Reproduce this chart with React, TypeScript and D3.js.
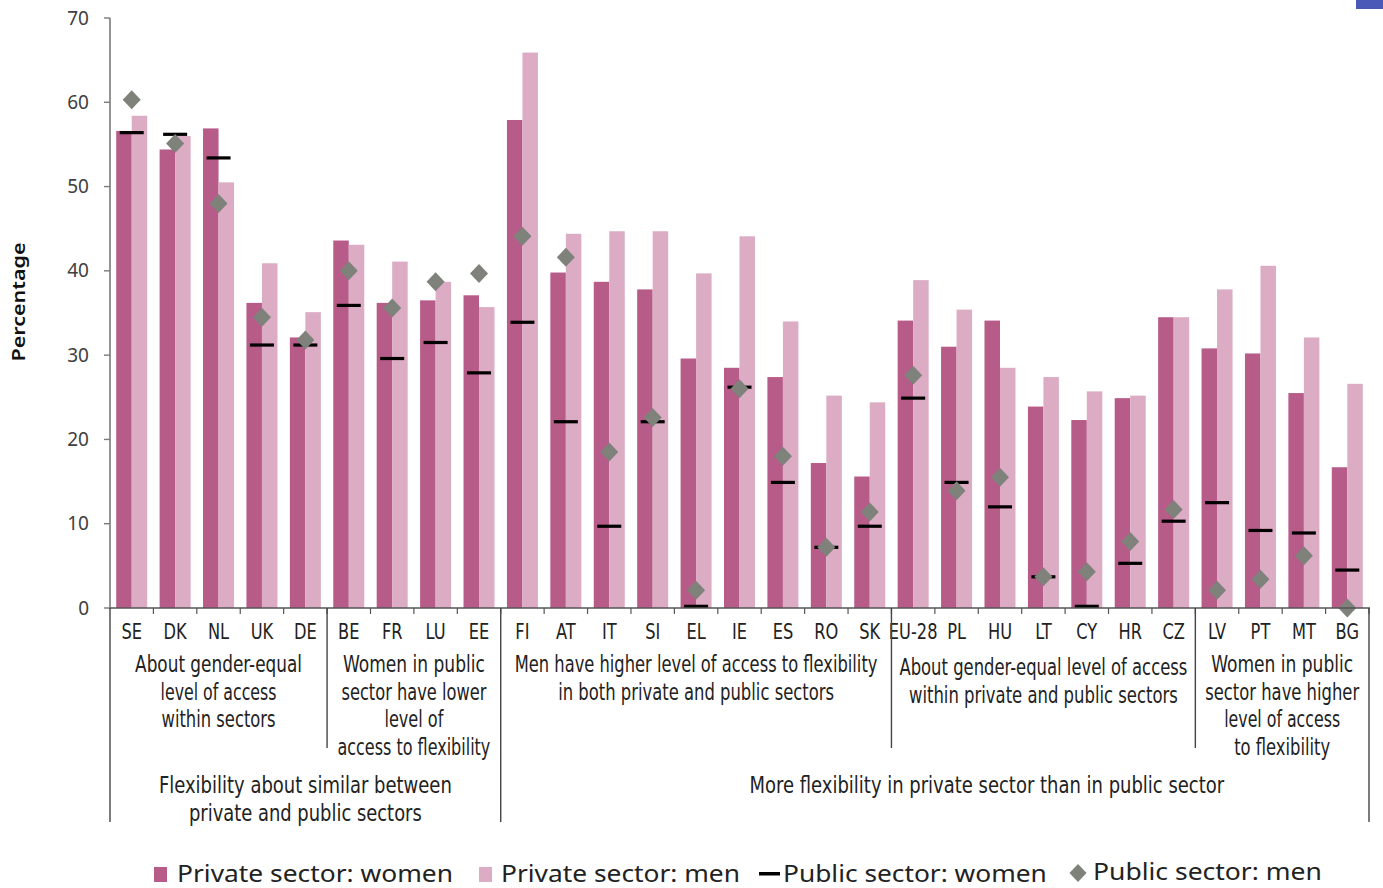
import React, { useLayoutEffect, useRef, useState } from "react";
import * as d3 from "d3";

const categories = ["SE","DK","NL","UK","DE","BE","FR","LU","EE","FI","AT","IT","SI","EL","IE","ES","RO","SK","EU-28","PL","HU","LT","CY","HR","CZ","LV","PT","MT","BG"];
const privateWomen = [56.6,54.4,56.9,36.2,32.1,43.6,36.2,36.5,37.1,57.9,39.8,38.7,37.8,29.6,28.5,27.4,17.2,15.6,34.1,31.0,34.1,23.9,22.3,24.9,34.5,30.8,30.2,25.5,16.7];
const privateMen = [58.4,56.0,50.5,40.9,35.1,43.1,41.1,38.7,35.7,65.9,44.4,44.7,44.7,39.7,44.1,34.0,25.2,24.4,38.9,35.4,28.5,27.4,25.7,25.2,34.5,37.8,40.6,32.1,26.6];
const publicWomen = [56.4,56.2,53.4,31.2,31.2,35.9,29.6,31.5,27.9,33.9,22.1,9.7,22.1,0.2,26.2,14.9,7.2,9.7,24.9,14.9,12.0,3.7,0.2,5.3,10.3,12.5,9.2,8.9,4.5];
const publicMen = [60.3,55.1,48.0,34.5,31.8,40.0,35.6,38.7,39.7,44.1,41.6,18.5,22.6,2.1,26.0,18.0,7.2,11.4,27.6,13.9,15.5,3.7,4.3,7.9,11.7,2.1,3.4,6.2,0];
const yTicks = [0,10,20,30,40,50,60,70];

const subGroups = [
  { from: 0, to: 4, lines: ["About gender-equal","level of access","within sectors"], widths: [167,116,114], top: 672 },
  { from: 5, to: 8, lines: ["Women in public","sector have lower","level of","access to flexibility"], widths: [142,145,59,153], top: 672 },
  { from: 9, to: 17, lines: ["Men have higher level of access to flexibility","in both private and public sectors"], widths: [363,276], top: 672 },
  { from: 18, to: 24, lines: ["About gender-equal level of access","within private and public sectors"], widths: [288,269], top: 675 },
  { from: 25, to: 28, lines: ["Women in public","sector have higher","level of access","to flexibility"], widths: [142,154,116,96], top: 672 },
];
const outerGroups = [
  { from: 0, to: 8, lines: ["Flexibility about similar between","private and public sectors"], widths: [293,233], shift: 0 },
  { from: 9, to: 28, lines: ["More flexibility in private sector than in public sector"], widths: [475], shift: 52 },
];
const legendItems = ["Private sector: women","Private sector: men","Public sector: women","Public sector: men"];

const C_W = "#b75b88";
const C_M = "#dcacc4";
const C_D = "#7f827b";
const NARROW = "'Liberation Sans Narrow', 'DejaVu Sans Condensed', sans-serif";
const SANS = "'Noto Sans', 'Open Sans', sans-serif";

type FitProps = { x: number; y: number; width?: number; sx?: number; anchor?: string; size: number; family: string; weight?: number; fill?: string; rotate?: number; children: string };

function FitText({ x, y, width, sx, anchor = "middle", size, family, weight = 400, fill = "#222", rotate = 0, children }: FitProps) {
  const ref = useRef<SVGTextElement>(null);
  const [s, setS] = useState(sx ?? 1);
  useLayoutEffect(() => {
    if (width && ref.current) {
      const len = ref.current.getComputedTextLength();
      if (len > 0) setS(width / len);
    }
  }, [width, children]);
  return (
    <text ref={ref} transform={`translate(${x},${y}) rotate(${rotate}) scale(${s},1)`} textAnchor={anchor}
      fontFamily={family} fontSize={size} fontWeight={weight} fill={fill}>{children}</text>
  );
}

export default function App() {
  const W = 1383, H = 888;
  const x = d3.scaleBand<string>().domain(categories).range([110, 1369]).paddingInner(0).paddingOuter(0);
  const y = d3.scaleLinear().domain([0, 70]).range([608, 18]);
  const bw = x.bandwidth();
  const barW = 15.5;
  const cx = (i: number) => (x(categories[i]) as number) + bw / 2;
  const left = (i: number) => x(categories[i]) as number;
  const right = (i: number) => (x(categories[i]) as number) + bw;
  const diamond = (px: number, py: number, r = 9.5) => `M${px},${py - r}L${px + r * 0.95},${py}L${px},${py + r}L${px - r * 0.95},${py}Z`;

  return (
    <svg width={W} height={H} style={{ display: "block", position: "absolute", left: 0, top: 0 }}>
      <rect x={0} y={0} width={W} height={H} fill="#fff" />
      <rect x={1356} y={0} width={27} height={9} fill="#4a58b8" />
      {categories.map((c, i) => (
        <g key={c}>
          <rect x={cx(i) - barW} y={y(privateWomen[i])} width={barW} height={y(0) - y(privateWomen[i])} fill={C_W} />
          <rect x={cx(i)} y={y(privateMen[i])} width={barW} height={y(0) - y(privateMen[i])} fill={C_M} />
        </g>
      ))}
      {categories.map((c, i) => (
        <rect key={"l" + c} x={cx(i) - 12} y={y(publicWomen[i]) - 1.6} width={24} height={3.2} fill="#000" />
      ))}
      {categories.map((c, i) => (
        <path key={"d" + c} d={diamond(cx(i), y(publicMen[i]))} fill={C_D} />
      ))}
      <line x1={110} x2={110} y1={18} y2={609} stroke="#7a7a7a" strokeWidth={1.6} />
      {yTicks.map((t) => (
        <g key={t}>
          <line x1={104} x2={110} y1={y(t)} y2={y(t)} stroke="#7a7a7a" strokeWidth={1.4} />
          <text x={89} y={y(t) + 6.5} textAnchor="end" fontFamily={SANS} fontSize={19} fill="#404040">{t}</text>
        </g>
      ))}
      <FitText x={25} y={302} rotate={-90} width={119} size={18} weight={600} family={SANS} fill="#111">Percentage</FitText>
      <line x1={110} x2={1370} y1={608} y2={608} stroke="#555" strokeWidth={1.6} />
      {categories.map((c, i) => (
        <line key={"t" + c} x1={right(i)} x2={right(i)} y1={608} y2={614} stroke="#555" strokeWidth={1.2} />
      ))}
      {categories.map((c, i) => (
        <FitText key={"c" + c} x={cx(i)} y={639} sx={0.82} size={22} family={NARROW}>{c}</FitText>
      ))}
      <line x1={110} x2={110} y1={608} y2={822} stroke="#444" strokeWidth={1.4} />
      <line x1={right(28)} x2={right(28)} y1={608} y2={822} stroke="#444" strokeWidth={1.4} />
      <line x1={right(8)} x2={right(8)} y1={608} y2={822} stroke="#444" strokeWidth={1.4} />
      {[4, 17, 24].map((i) => (
        <line key={"s" + i} x1={right(i)} x2={right(i)} y1={608} y2={748} stroke="#444" strokeWidth={1.4} />
      ))}
      {subGroups.map((g, gi) => {
        const mid = (left(g.from) + right(g.to)) / 2;
        return g.lines.map((ln, li) => (
          <FitText key={"g" + gi + li} x={mid} y={g.top + li * 27.5} width={g.widths[li]} size={23} family={NARROW}>{ln}</FitText>
        ));
      })}
      {outerGroups.map((g, gi) => {
        const mid = (left(g.from) + right(g.to)) / 2 + g.shift;
        return g.lines.map((ln, li) => (
          <FitText key={"o" + gi + li} x={mid} y={793 + li * 27.5} width={g.widths[li]} size={23} family={NARROW}>{ln}</FitText>
        ));
      })}
      <g>
        <rect x={154} y={867} width={13} height={15} fill={C_W} />
        <FitText x={177} y={882} anchor="start" width={276} size={23} family={SANS}>{legendItems[0]}</FitText>
        <rect x={479} y={867} width={13} height={15} fill={C_M} />
        <FitText x={501} y={882} anchor="start" width={239} size={23} family={SANS}>{legendItems[1]}</FitText>
        <rect x={759} y={872} width={21} height={3.5} fill="#000" />
        <FitText x={783} y={882} anchor="start" width={264} size={23} family={SANS}>{legendItems[2]}</FitText>
        <path d={diamond(1078, 873, 9)} fill={C_D} />
        <FitText x={1093} y={880} anchor="start" width={229} size={23} family={SANS}>{legendItems[3]}</FitText>
      </g>
    </svg>
  );
}
